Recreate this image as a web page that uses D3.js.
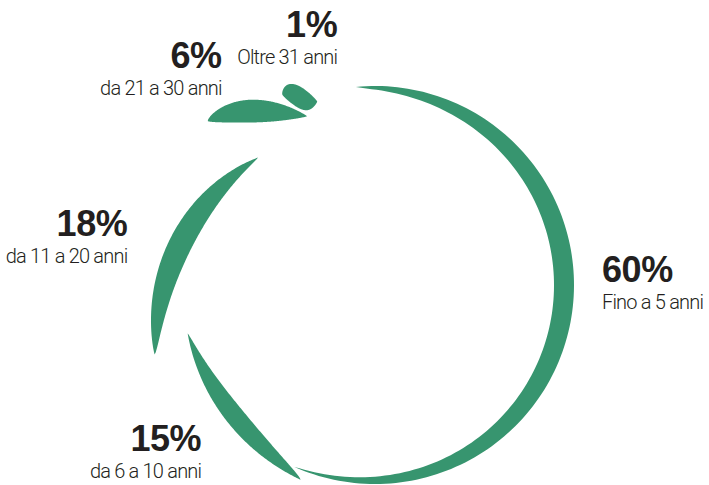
<!DOCTYPE html>
<html>
<head>
<meta charset="utf-8">
<script src="https://cdn.jsdelivr.net/npm/d3@7"></script>
<style>
  html, body { margin: 0; padding: 0; background: #ffffff; }
  svg { display: block; }
  .pct { font-family: "Liberation Sans", Arial, sans-serif; font-weight: 700; font-size: 36px; fill: #231f20; letter-spacing: -0.4px; }
  .sub { font-family: Roboto, "Liberation Sans", sans-serif; font-weight: 300; font-size: 20px; fill: #231f20; letter-spacing: -0.8px; }
</style>
</head>
<body>
<script>
// Anzianità: share of each age band
const categories = ["Fino a 5 anni", "da 6 a 10 anni", "da 11 a 20 anni", "da 21 a 30 anni", "Oltre 31 anni"];
const shares = [60, 15, 18, 6, 1];
const shareLabels = ["60%", "15%", "18%", "6%", "1%"];

// Leaf styling per band (radial twist, lift, outer/inner bulge in px)
const leafTwist = [0, 15, 58, 52, 19];
const leafLift = [0, 2, 3, 9, 3];
const leafBulgeOut = [0, 0, 6, 15, 14];
const leafBulgeIn = [20, 19, 18, 12, 14];

const W = 709, H = 485;
const cx = 375, cy = 285, R = 199;
const deg = Math.PI / 180;
const overlap = 1.5 * deg;    // leaves slightly overrun their slice ends
const minLeaf = 8.5 * deg;    // tiny slices keep a readable leaf
const peakAt = 0.45;          // where along a leaf it is thickest
const skew = Math.log(0.5) / Math.log(peakAt);
const lineGap = 27;
const green = "#37956f";

const svg = d3.select("body").append("svg")
  .attr("width", W).attr("height", H);

const g = svg.append("g").attr("transform", `translate(${cx},${cy})`);

const pie = d3.pie().sort(null).value(d => d)
  .startAngle(-4 * deg).endAngle(340 * deg);
const slices = pie(shares);

const radial = d3.lineRadial().curve(d3.curveLinearClosed);

function leafExtent(d) {
  const mid = (d.startAngle + d.endAngle) / 2;
  const half = Math.max((d.endAngle - d.startAngle) / 2 + overlap, minLeaf / 2);
  return [mid - half, mid + half];
}

function thickness(t) {
  return Math.pow(Math.sin(Math.PI * Math.pow(t, skew)), 0.85);
}

function leafPoints(i, a0, a1) {
  const n = 140, outer = [], inner = [];
  for (let k = 0; k <= n; k++) {
    const t = k / n;
    const a = a0 + t * (a1 - a0);
    const rb = R + leafLift[i] + leafTwist[i] * (0.5 - t);
    const s = thickness(t);
    outer.push([a, rb + leafBulgeOut[i] * s]);
    inner.push([a, rb - leafBulgeIn[i] * s]);
  }
  return outer.concat(inner.reverse());
}

g.selectAll("path.leaf")
  .data(slices)
  .join("path")
  .attr("class", "leaf")
  .attr("fill", green)
  .attr("d", (d, i) => {
    const [a0, a1] = leafExtent(d);
    return radial(leafPoints(i, a0, a1));
  });

// Labels: anchored beside the thickest point of each leaf
const labels = g.selectAll("g.lbl")
  .data(slices)
  .join("g")
  .attr("class", "lbl");

labels.append("text").attr("class", "pct").text((d, i) => shareLabels[i]);
labels.append("text").attr("class", "sub").attr("y", lineGap).text((d, i) => categories[i]);

const maxBaseline = H - cy - 7 - lineGap;   // keep the lower line inside the frame

labels.each(function (d, i) {
  const grp = d3.select(this);
  const [a0, a1] = leafExtent(d);
  const a = a0 + peakAt * (a1 - a0);
  const rOuter = R + leafLift[i] + leafTwist[i] * (0.5 - peakAt) + leafBulgeOut[i];
  const sn = Math.sin(a), cs = Math.cos(a);
  const widths = [];
  grp.selectAll("text").each(function () { widths.push(this.getComputedTextLength()); });
  const w = Math.max(...widths);
  const fromTop = Math.abs(Math.atan2(sn, cs)) / deg;
  let x, y;
  if (fromTop < 30) {
    // near the top: block sits above, right-aligned lines centred on the anchor
    const L = rOuter + 16;
    x = L * sn + w / 2;
    y = -L * cs - lineGap - 5;
    grp.selectAll("text").attr("text-anchor", "end");
  } else {
    const L = rOuter + (sn >= 0 ? 28 : 42);
    x = L * sn;
    y = -L * cs + 2;
    grp.selectAll("text").attr("text-anchor", sn >= 0 ? "start" : "end");
  }
  grp.attr("transform", `translate(${x},${Math.min(y, maxBaseline)})`);
});
</script>
</body>
</html>
